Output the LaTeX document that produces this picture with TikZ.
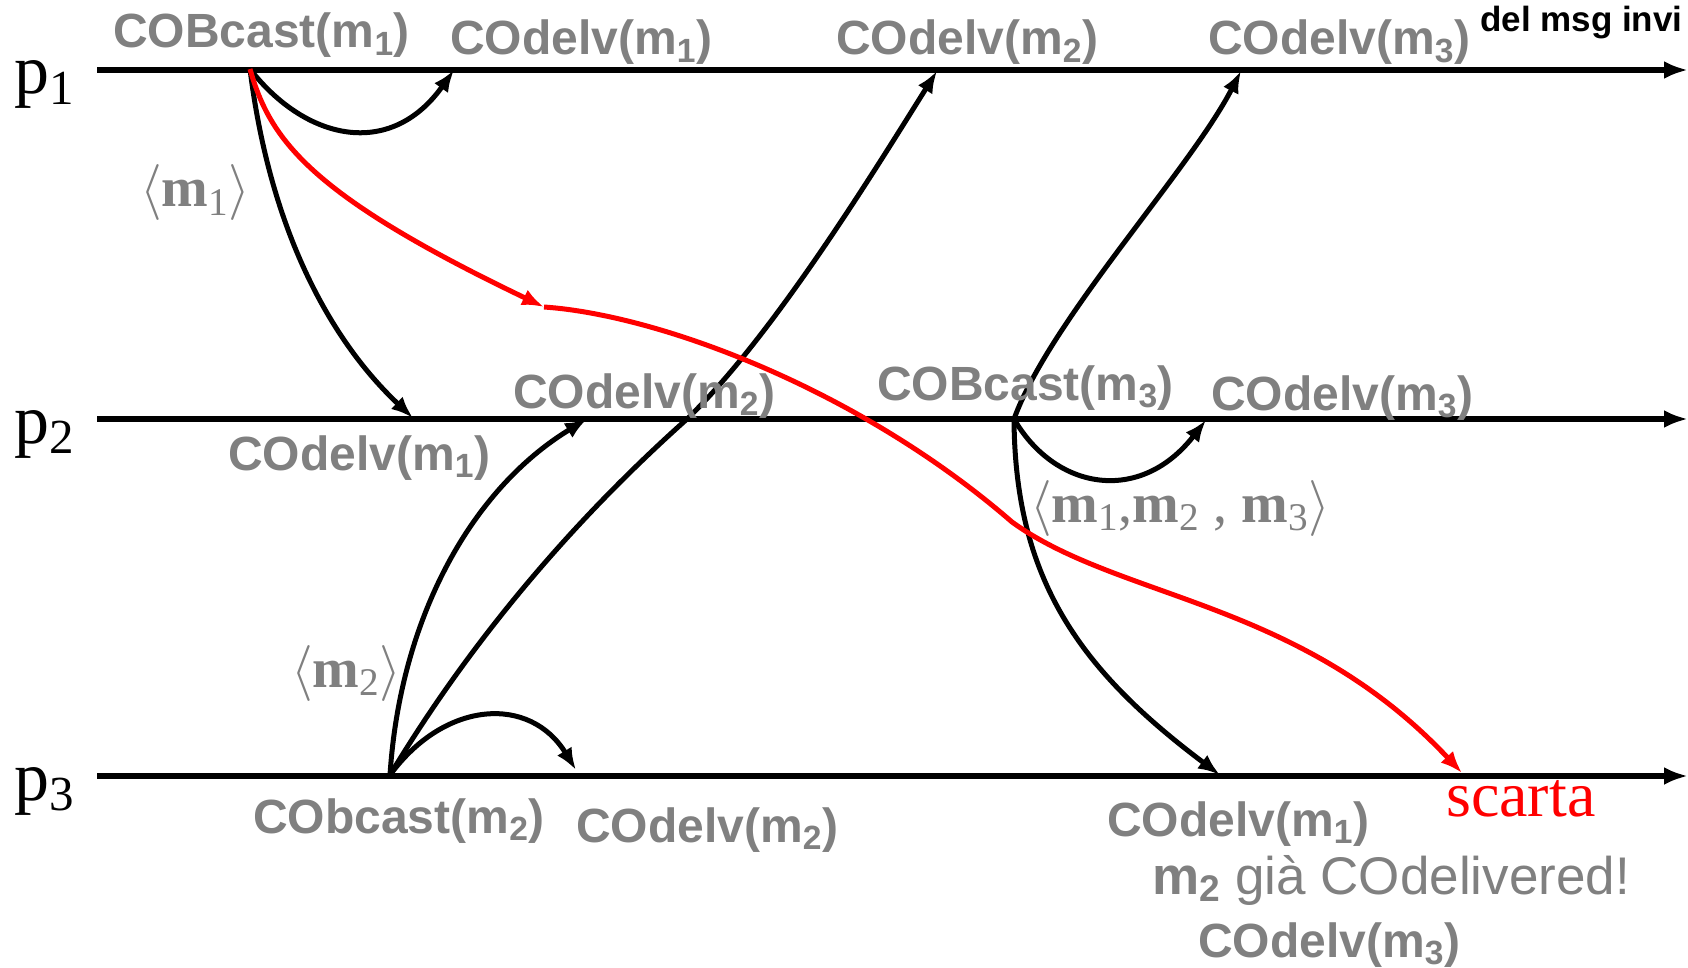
\documentclass[tikz,border=0pt]{standalone}
\usepackage{fix-cm}
\usepackage{amsmath}
\usepackage{fontspec}
\setmainfont{Liberation Serif}
\setsansfont{Liberation Sans}
\definecolor{lbl}{RGB}{128, 128, 128}
\usepackage{tikz}
\usetikzlibrary{arrows.meta, positioning}
\newcommand{\idx}[1]{$_{\text{#1}}$}

\begin{document}
\begin{tikzpicture}[
			x=1pt, y=-1pt,
			proc/.style={line width=6pt, -{Latex[length=24pt, width=18pt]}},
			msg/.style={line width=5pt, -{Latex[length=22pt, width=17pt]}},
			ev/.style={anchor=base west, inner sep=0pt, text=lbl,
				font=\fontsize{48}{50}\selectfont\sffamily\bfseries},
			pname/.style={anchor=base west, inner sep=0pt, font=\fontsize{70}{80}\selectfont},
			batch/.style={anchor=base west, inner sep=0pt, text=lbl, font=\fontsize{56}{60}\selectfont}
			]
			\useasboundingbox (0,0) rectangle (1688,968);

			\foreach \i/\y in {1/70, 2/419, 3/776} {
				\coordinate (s\i) at (97,\y);
				\coordinate (e\i) at (1688,\y);
				\node[pname] (p\i) at (14,\y+24) {p\idx{\i}};
				\draw[proc] (s\i) -- (e\i);
			}

			\coordinate (b1) at (250,69);
			\coordinate (b2) at (390,775);
			\coordinate (b3) at (1014,419);
			\coordinate (r11) at (454,70);
			\coordinate (r21) at (413,418);
			\coordinate (r31) at (1462,773);
			\coordinate (mid) at (544,307);
			\coordinate (bend) at (1012,522);
			\coordinate (r32) at (576,770);
			\coordinate (r22) at (587,419);
			\coordinate (cross) at (687,419);
			\coordinate (r12) at (937,71);
			\coordinate (r23) at (1206,420);
			\coordinate (r13) at (1241,71);
			\coordinate (r33) at (1220,775);

			\draw[msg] (b1) .. controls (305,140) and (390,160) .. (r11);
			\draw[msg] (b1) .. controls (270,230) and (330,340) .. (r21);
			\draw[msg] (b2) .. controls (445,700) and (530,695) .. (r32);
			\draw[msg] (b2) .. controls (400,620) and (470,490) .. (r22);
			\draw[msg] (b2) .. controls (493,604) and (612,486) .. (cross)
				.. controls (773,336) and (873,173) .. (r12);
			\draw[msg] (b3) .. controls (1055,490) and (1140,505) .. (r23);
			\draw[msg] (b3) .. controls (1050,320) and (1190,170) .. (r13);
			\draw[msg] (b3) .. controls (1015,580) and (1080,670) .. (r33);
			\draw[msg, red] (b1) .. controls (270,140) and (310,195) .. (mid);
			\draw[msg, red] (mid) .. controls (660,315) and (860,390) .. (bend)
				.. controls (1120,600) and (1300,600) .. (r31);

			\node[ev] (lb1) at (113,48) {COBcast(m\idx{1})};
			\node[ev] (l11) at (450,55) {COdelv(m\idx{1})};
			\node[ev] (l12) at (836,55) {COdelv(m\idx{2})};
			\node[ev] (l13) at (1208,55) {COdelv(m\idx{3})};
			\node[ev] (l21) at (228,470) {COdelv(m\idx{1})};
			\node[ev] (l22) at (513,408) {COdelv(m\idx{2})};
			\node[ev] (lb3) at (877,400) {COBcast(m\idx{3})};
			\node[ev] (l23) at (1211,410) {COdelv(m\idx{3})};
			\node[ev] (lb2) at (253,833) {CObcast(m\idx{2})};
			\node[ev] (l32) at (576,842) {COdelv(m\idx{2})};
			\node[ev] (l31) at (1107,836) {COdelv(m\idx{1})};
			\node[ev, font=\fontsize{53}{56}\selectfont\sffamily] (lgia) at (1152,894) {{\bfseries m\idx{2}} già COdelivered!};
			\node[ev] (l33) at (1198,957) {COdelv(m\idx{3})};
			\node[anchor=base west, inner sep=0pt, font=\fontsize{35}{38}\selectfont\sffamily\bfseries] (note) at (1480,32) {del msg invi};

			\node[batch] (v1) at (140,207) {$\langle$\textbf{m}\idx{1}$\rangle$};
			\node[batch] (v2) at (291,687) {$\langle$\textbf{m}\idx{2}$\rangle$};
			\node[batch] (v3) at (1030,522) {$\langle$\textbf{m}\idx{1},\textbf{m}\idx{2} , \textbf{m}\idx{3}$\rangle$};
			\node[anchor=base west, inner sep=0pt, text=red, font=\fontsize{64}{70}\selectfont] (scarta) at (1446,816) {scarta};
		\end{tikzpicture}
\end{document}
